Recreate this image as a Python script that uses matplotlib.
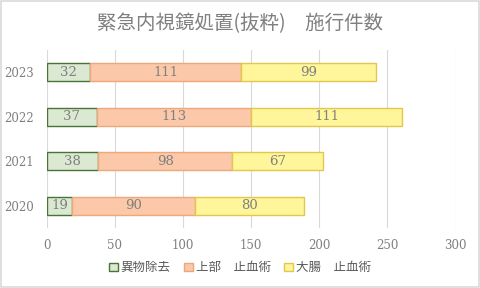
import matplotlib.pyplot as plt
import numpy as np

years = ["2020", "2021", "2022", "2023"]
foreign = [19, 38, 37, 32]
upper = [90, 98, 113, 111]
colon = [80, 67, 111, 99]
labels = ["異物除去", "上部　止血術", "大腸　止血術"]
x_ticks = [0, 50, 100, 150, 200, 250, 300]

plt.rcParams['font.family'] = ['Noto Sans CJK JP', 'DejaVu Sans']
grey = "#595959"
light = "#7f7f7f"

fig = plt.figure(figsize=(4.8, 2.88), dpi=100)
ax = fig.add_axes([0.097, 0.208, 0.852, 0.618])

y = np.arange(len(years))
h = 0.41
series = [
    (foreign, "#dbe8d2", "#4a7336"),
    (upper, "#fbc9a9", "#eea77a"),
    (colon, "#fff59b", "#e2c74a"),
]
left = np.zeros(len(years))
for (vals, fc, ec), lab in zip(series, labels):
    vals = np.array(vals)
    bars = ax.barh(y, vals, left=left, height=h, color=fc, edgecolor=ec,
                   linewidth=1.0, label=lab, zorder=3)
    for b, v in zip(bars, vals):
        ax.text(b.get_x() + b.get_width() / 2, b.get_y() + b.get_height() / 2,
                str(v), ha="center", va="center", color=light, fontsize=9.5,
                family="DejaVu Serif", zorder=4)
    left += vals

ax.set_xlim(0, 300)
ax.set_ylim(-0.5, 3.5)
ax.set_xticks(x_ticks)
ax.set_yticks(y)
ax.set_yticklabels(years, family="DejaVu Serif", fontsize=8.5, color=light)
ax.set_xticklabels([str(t) for t in x_ticks], family="DejaVu Serif",
                   fontsize=8.5, color=light)
ax.tick_params(length=0, pad=8)
ax.tick_params(axis="y", pad=9)
ax.grid(axis="x", color="#d9d9d9", linewidth=0.8, zorder=0)
for s in ax.spines.values():
    s.set_visible(False)

fig.suptitle("緊急内視鏡処置(抜粋)　施行件数", y=0.955, fontsize=14,
             color=light)
fig.legend(loc="center", bbox_to_anchor=(0.5, 0.07), ncol=3, frameon=False,
           fontsize=9, handlelength=0.7, handleheight=0.7, handletextpad=0.2,
           columnspacing=1.1, labelcolor=grey)
fig.patches.append(plt.Rectangle((0.002, 0.003), 0.995, 0.993,
                                 transform=fig.transFigure, fill=False,
                                 edgecolor="#d9d9d9", linewidth=1.2))
fig.savefig("out.png", dpi=100)
